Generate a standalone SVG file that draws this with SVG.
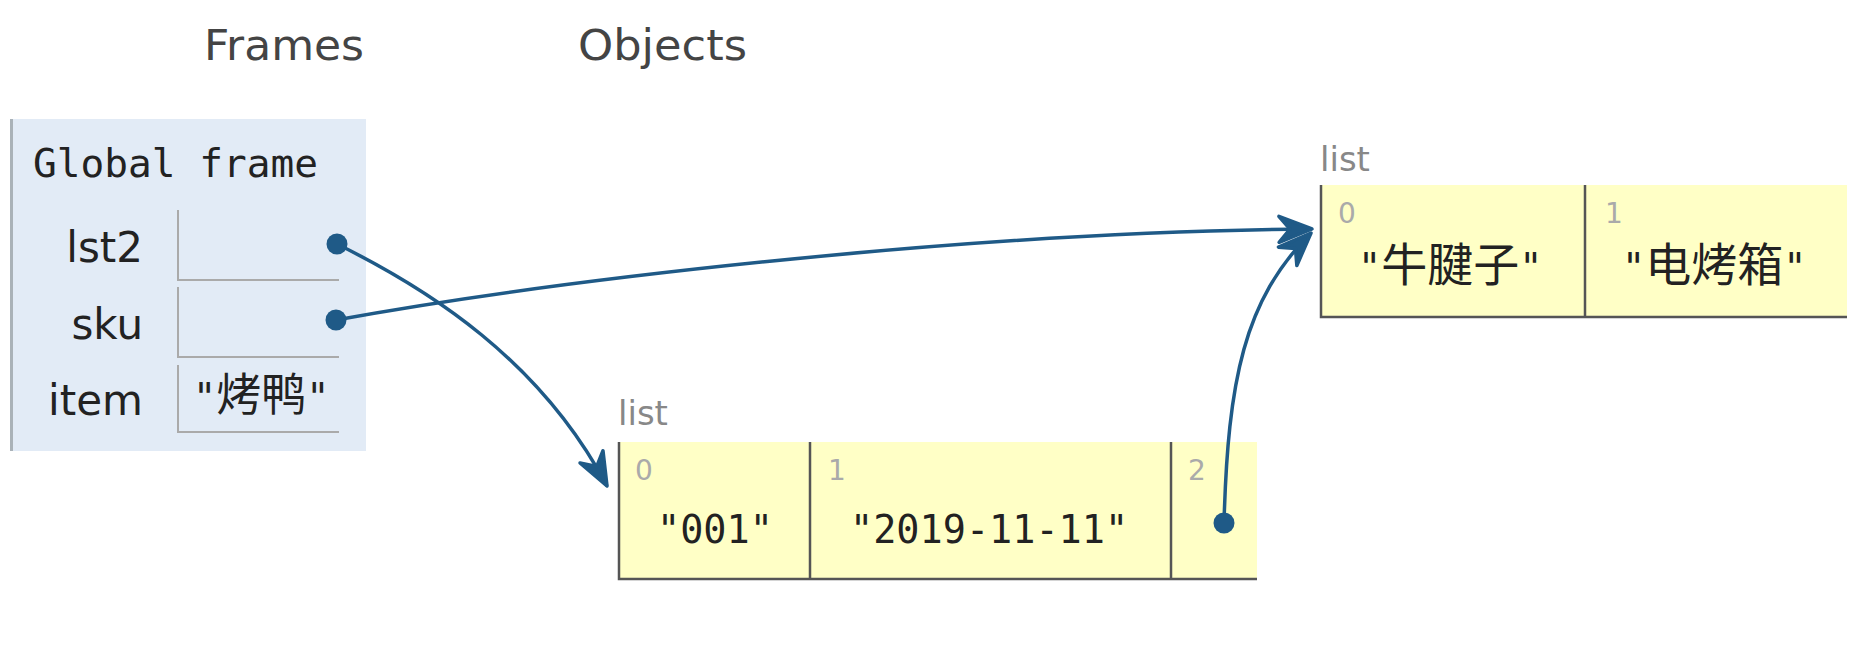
<svg xmlns="http://www.w3.org/2000/svg" width="1860" height="664" viewBox="0 0 1860 664">
<defs>
<style>
.hdr{font-family:"DejaVu Sans",Verdana,sans-serif;font-size:43px;fill:#444}
.var{font-family:"DejaVu Sans",Verdana,sans-serif;font-size:42px;fill:#222;text-anchor:end}
.mono{font-family:"DejaVu Sans Mono","Liberation Mono",monospace;fill:#222}
.cjk{font-family:"Noto Sans CJK SC","Noto Sans CJK JP",sans-serif}
.val{font-size:38.5px}
.type{font-family:"DejaVu Sans",Verdana,sans-serif;font-size:34px;fill:#888}
.idx{font-family:"DejaVu Sans",Verdana,sans-serif;font-size:28px;fill:#aaa}
.cellbg{fill:#ffffc6}
.cellline{stroke:#555;stroke-width:2.5;fill:none}
.slot{stroke:#aaa;stroke-width:2;fill:none}
.conn{stroke:#1f5a87;stroke-width:3.5;fill:none}
.dot{fill:#1f5a87}
</style>
<marker id="arrow" markerUnits="userSpaceOnUse" markerWidth="48" markerHeight="40" viewBox="-40 -20 44 40" refX="0" refY="0" orient="auto">
<path d="M0,0 L-33,-13 L-22,0 L-33,13 Z" fill="#1f5a87" stroke="#1f5a87" stroke-width="3.5" stroke-linejoin="round"/>
</marker>
</defs>
<rect width="1860" height="664" fill="#ffffff"/>

<g id="headers">
<text class="hdr" x="204" y="60" textLength="160" lengthAdjust="spacingAndGlyphs">Frames</text>
<text class="hdr" x="578" y="60" textLength="169" lengthAdjust="spacingAndGlyphs">Objects</text>
</g>

<g id="global-frame">
<rect x="10" y="119" width="356" height="332" fill="#e2ebf6"/>
<rect x="10" y="119" width="3" height="332" fill="#aab2b8"/>
<text class="mono" x="33" y="177" font-size="39.5" textLength="285" lengthAdjust="spacingAndGlyphs">Global frame</text>
<g id="var-lst2">
<text class="var" x="143" y="262">lst2</text>
<path class="slot" d="M178,210 V280 H339"/>
</g>
<g id="var-sku">
<text class="var" x="143" y="339">sku</text>
<path class="slot" d="M178,287 V357 H339"/>
</g>
<g id="var-item">
<text class="var" x="143" y="415">item</text>
<path class="slot" d="M178,365 V432 H339"/>
<text class="mono val" x="193" y="411">"<tspan class="cjk" font-size="45">烤鸭</tspan>"</text>
</g>
</g>

<g id="list-lower">
<text class="type" x="618" y="425">list</text>
<rect class="cellbg" x="618" y="442" width="639" height="137"/>
<path class="cellline" d="M619,442 V579 H1257 M810,442 V579 M1171,442 V579"/>
<text class="idx" x="635" y="480">0</text>
<text class="mono val" x="657" y="543">"001"</text>
<text class="idx" x="828" y="480">1</text>
<text class="mono val" x="850" y="543">"2019-11-11"</text>
<text class="idx" x="1188" y="480">2</text>
</g>

<g id="list-upper">
<text class="type" x="1320" y="171">list</text>
<rect class="cellbg" x="1320" y="185" width="527" height="132"/>
<path class="cellline" d="M1321,185 V317 H1847 M1585,185 V317"/>
<text class="idx" x="1338" y="223">0</text>
<text class="mono val" x="1358" y="281">"<tspan class="cjk" font-size="46">牛腱子</tspan>"</text>
<text class="idx" x="1605" y="223">1</text>
<text class="mono val" x="1622" y="281">"<tspan class="cjk" font-size="46">电烤箱</tspan>"</text>
</g>

<g id="connectors">
<path class="conn" d="M337,244 C430,290 540,360 607,486" marker-end="url(#arrow)"/>
<path class="conn" d="M336,320 C550,281 960,232 1312,229" marker-end="url(#arrow)"/>
<path class="conn" d="M1224,523 C1228,380 1244,300 1311,233" marker-end="url(#arrow)"/>
<circle class="dot" cx="337" cy="244" r="10.5"/>
<circle class="dot" cx="336" cy="320" r="10.5"/>
<circle class="dot" cx="1224" cy="523" r="10.5"/>
</g>
</svg>
